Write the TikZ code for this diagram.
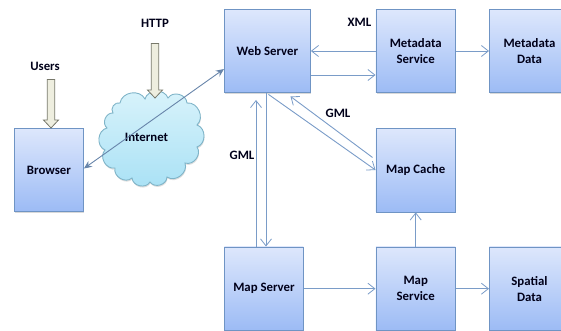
\documentclass[tikz,border=0pt]{standalone}
\usepackage{fontspec}
\setmainfont{Carlito}
\usetikzlibrary{arrows.meta,shadows,calc}
\definecolor{boxedge}{HTML}{6F94C4}
\definecolor{boxtop}{HTML}{DDE7FC}
\definecolor{boxbot}{HTML}{9CBBF5}
\definecolor{linkc}{HTML}{7A9CC8}
\definecolor{blockedge}{HTML}{77786A}
\definecolor{blockfill}{HTML}{EEEEDF}
\definecolor{cloudedge}{HTML}{7FB4C8}
\definecolor{cloudtop}{HTML}{D9F3FB}
\definecolor{cloudbot}{HTML}{A9E1F5}
\tikzset{
  box/.style={draw=boxedge,line width=0.9pt,top color=boxtop,bottom color=boxbot,anchor=north west,inner sep=0pt,
    align=center,text=black!90!blue,font=\fontsize{12.8}{16}\selectfont\bfseries,
    drop shadow={shadow xshift=0.6pt,shadow yshift=-1.2pt,opacity=0.3}},
  lab/.style={font=\fontsize{12.8}{14}\selectfont\bfseries,text=black!90!blue,inner sep=0pt},
  link/.style={draw=linkc,line width=0.9pt,-{Straight Barb[length=7pt,width=11pt,line width=0.8pt]}},
  solidlink/.style={draw=linkc!85!black,line width=0.9pt,{Stealth[length=8pt,width=7pt]}-{Stealth[length=8pt,width=7pt]}},
  block/.style={draw=blockedge,line width=0.8pt,fill=blockfill},
  puff/.style={bend left=72,looseness=1.15},
}
\newcommand{\boxat}[6]{\node[box,minimum width=#4pt,minimum height=#5pt] (#1) at (#2,#3) {#6};}
\begin{document}
\begin{tikzpicture}[x=1pt,y=-1pt]
\useasboundingbox (0,0) rectangle (561,331);
% cloud
\draw[draw=cloudedge,line width=0.9pt,top color=cloudtop,bottom color=cloudbot,
  drop shadow={shadow xshift=0.5pt,shadow yshift=-1.5pt,opacity=0.25}]
  (120,103) to[puff] (145,99) to[puff] (168,98) to[puff] (187,103) to[puff] (197,125)
  to[puff] (197,147) to[puff] (185,163) to[puff] (167,177) to[puff] (150,182)
  to[puff] (132,178) to[puff] (115,168) to[puff] (105,150) to[puff] (107,128)
  to[puff] (113,113) to[puff] (120,103) -- cycle;
% boxes
\boxat{browser}{14}{128}{69}{83}{Browser}
\boxat{web}{224}{9.5}{86}{83}{Web Server}
\boxat{metasvc}{375.5}{9.5}{79.5}{83}{Metadata\\Service}
\boxat{metadata}{489}{9.5}{80}{83}{Metadata\\Data}
\boxat{cache}{375.5}{128.5}{79.5}{83}{Map Cache}
\boxat{mapsrv}{224}{246.5}{79}{83.5}{Map Server}
\boxat{mapsvc}{375.5}{246.5}{79.5}{83.5}{Map\\Service}
\boxat{spatial}{489}{246.5}{80}{83.5}{Spatial\\Data}
\node[lab] (inet) at (146.5,137) {Internet};
% labels
\node[lab] (users) at (45,66) {Users};
\node[lab] (http) at (155,23.5) {HTTP};
\node[lab] (xml) at (359.5,22) {XML};
\node[lab] (gmla) at (338,113) {GML};
\node[lab] (gmlb) at (242,155.5) {GML};
% block arrows
\coordinate (ua) at (51,79.5);
\coordinate (ub) at (51,128);
\coordinate (ha) at (155,43.5);
\coordinate (hb) at (155,98);
\draw[block] ($(ua)+(-3.7,0)$) -- ($(ua)+(3.7,0)$) -- ($(ub)+(3.7,-8)$) -- ($(ub)+(7.5,-8)$) -- (ub)
  -- ($(ub)+(-7.5,-8)$) -- ($(ub)+(-3.7,-8)$) -- cycle;
\draw[block] ($(ha)+(-3.7,0)$) -- ($(ha)+(3.7,0)$) -- ($(hb)+(3.7,-8)$) -- ($(hb)+(7.5,-8)$) -- (hb)
  -- ($(hb)+(-7.5,-8)$) -- ($(hb)+(-3.7,-8)$) -- cycle;
% connectors
\draw[solidlink] (browser.east |- 0,168.5) -- (web.west |- 0,69);
\draw[link] (metasvc.west |- 0,51) -- (web.east |- 0,51);
\draw[link] (web.east |- 0,75) -- (metasvc.west |- 0,75);
\draw[link] (metasvc.east |- 0,51) -- (metadata.west |- 0,51);
\draw[link] ($(cache.west)+(-3,-13)$) -- ($(web.south)+(23,3)$);
\draw[link] ($(web.south)+(1,1)$) -- (cache.west |- 0,170);
\draw[link] (mapsrv.north -| 256,0) -- (256,100);
\draw[link] (266,93) -- (mapsrv.north -| 266,0);
\draw[link] (mapsrv.east) -- (mapsvc.west);
\draw[link] (mapsvc.east) -- (spatial.west);
\draw[link] (mapsvc.north) -- (cache.south);
\end{tikzpicture}
\end{document}
